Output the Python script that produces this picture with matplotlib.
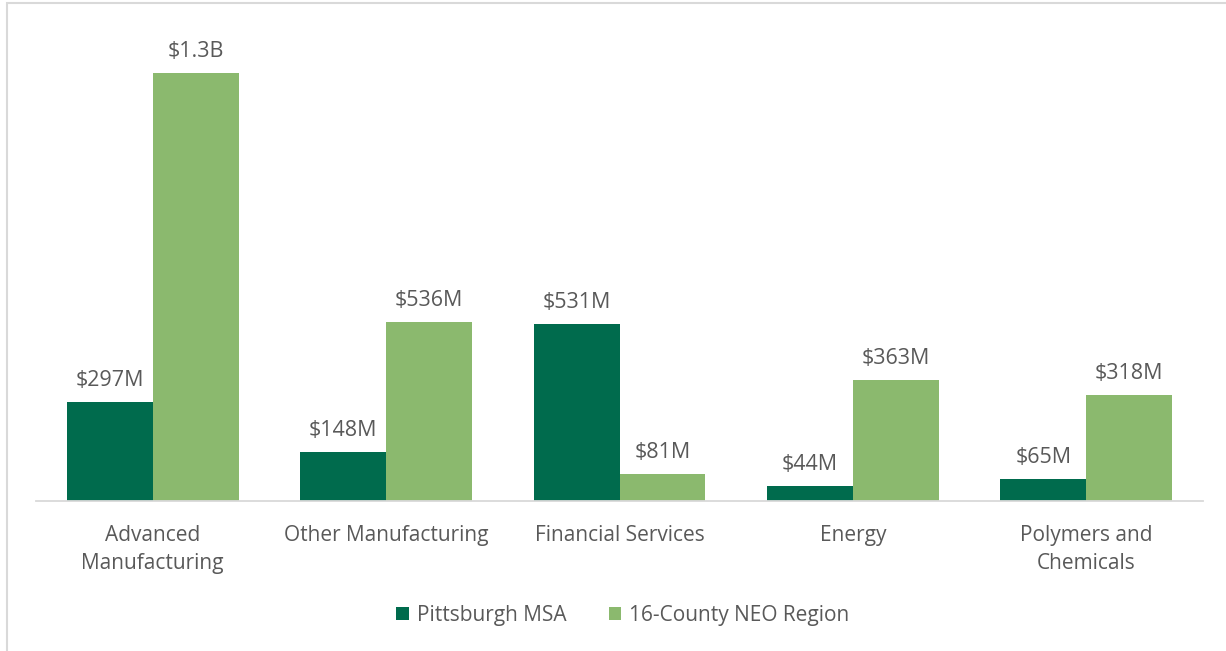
import matplotlib
matplotlib.use("Agg")
import matplotlib.pyplot as plt
import numpy as np
from matplotlib.patches import Rectangle

categories = ["Advanced\nManufacturing", "Other Manufacturing", "Financial Services", "Energy", "Polymers and\nChemicals"]
pittsburgh = [297, 148, 531, 44, 65]
neo = [1281, 536, 81, 363, 318]
pitt_labels = ["$297M", "$148M", "$531M", "$44M", "$65M"]
neo_labels = ["$1.3B", "$536M", "$81M", "$363M", "$318M"]
series_names = ["Pittsburgh MSA", "16-County NEO Region"]

dark = "#006B4D"
light = "#8BB96E"
txt = "#595959"

plt.rcParams['font.family'] = ['Open Sans', 'DejaVu Sans']

W, H = 1226, 651
fig = plt.figure(figsize=(W/100, H/100), dpi=100)
# border
fig.patches.append(Rectangle((7/W, -0.1), 1.2, (H-3)/H + 0.1, transform=fig.transFigure,
                             fill=False, edgecolor="#d9d9d9", linewidth=1.5))

ax_left, ax_right = 36, 1203
ax_bottom, ax_top = 501, 20
ax = fig.add_axes([ax_left/W, 1-ax_bottom/H, (ax_right-ax_left)/W, (ax_bottom-ax_top)/H])
x = np.arange(len(categories))
bw = 0.368
b1 = ax.bar(x - bw/2, pittsburgh, bw, color=dark, label=series_names[0])
b2 = ax.bar(x + bw/2, neo, bw, color=light, label=series_names[1])
ax.set_xlim(-0.5, 4.5)
ymax = (ax_bottom-ax_top)/0.334
ax.set_ylim(0, ymax)
for bars, labs in ((b1, pitt_labels), (b2, neo_labels)):
    for rect, lab in zip(bars, labs):
        ax.annotate(lab, (rect.get_x()+rect.get_width()/2, rect.get_height()), xytext=(0, 11),
                    textcoords="offset pixels", ha="center", va="bottom", fontsize=15.5, color=txt)
for s in ["top", "right", "left"]:
    ax.spines[s].set_visible(False)
ax.spines["bottom"].set_color("#d9d9d9")
ax.spines["bottom"].set_linewidth(1.3)
ax.set_yticks([])
ax.set_xticks(x)
ax.set_xticklabels(categories, fontsize=15, color=txt, linespacing=1.45)
ax.tick_params(axis="x", length=0, pad=17)
leg = fig.legend(handles=[b1, b2], labels=series_names, loc="center", bbox_to_anchor=(623/W, 1-615/H),
                 ncol=2, frameon=False, fontsize=15, handlelength=0.6, handleheight=0.6,
                 columnspacing=2.0, handletextpad=0.4)
for t in leg.get_texts():
    t.set_color(txt)
fig.savefig("out.png", dpi=100)
